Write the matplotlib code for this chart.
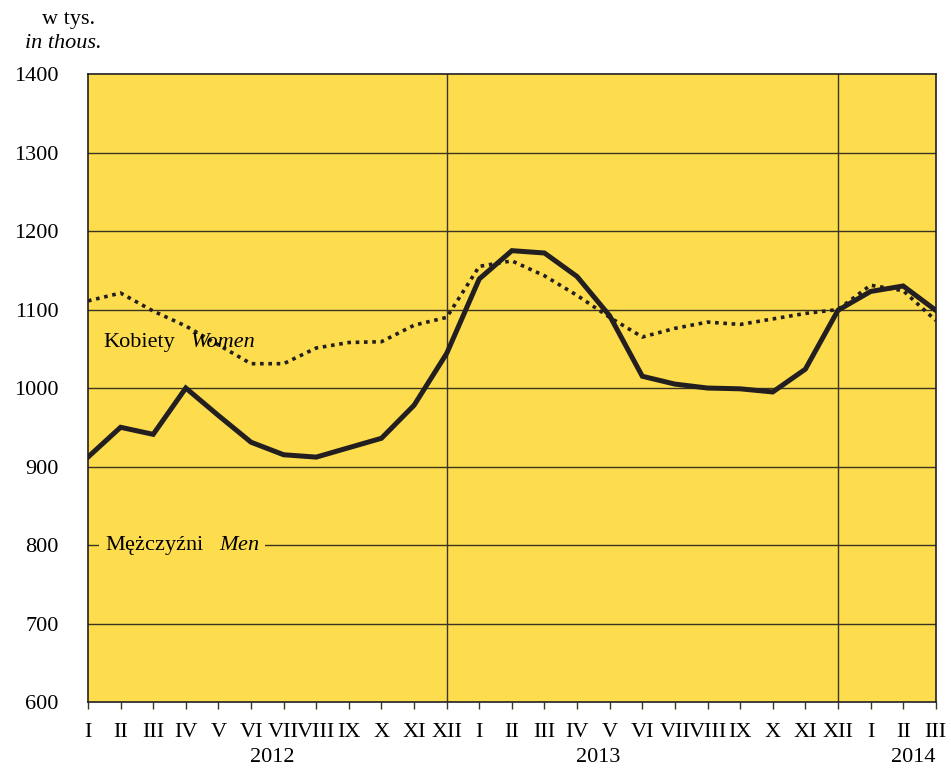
import matplotlib.pyplot as plt

plt.rcParams['font.family'] = ['Liberation Serif', 'DejaVu Serif']
plt.rcParams['mathtext.fontset'] = 'custom'
plt.rcParams['mathtext.it'] = 'Liberation Serif:italic'
plt.rcParams['mathtext.rm'] = 'Liberation Serif'

# miesiące I 2012 - III 2014
miesiace = ['I', 'II', 'III', 'IV', 'V', 'VI', 'VII', 'VIII', 'IX', 'X', 'XI', 'XII',
            'I', 'II', 'III', 'IV', 'V', 'VI', 'VII', 'VIII', 'IX', 'X', 'XI', 'XII',
            'I', 'II', 'III']
lata = ['2012', '2013', '2014']

# w tys.
mezczyzni = [912, 950, 941, 1000, 965, 931, 915, 912, 924, 936, 978, 1044,
             1139, 1175, 1172, 1142, 1092, 1015, 1005, 1000, 999, 995, 1024, 1099,
             1123, 1130, 1099]
kobiety = [1111, 1121, 1098, 1079, 1055, 1031, 1031, 1051, 1058, 1059, 1080, 1090,
           1155, 1162, 1143, 1118, 1090, 1065, 1076, 1084, 1081, 1088, 1095, 1100,
           1131, 1124, 1086]

x = list(range(len(miesiace)))
zolty = '#FDDC4E'
fs = 16

fig = plt.figure(figsize=(9.51, 7.68), dpi=100)
ax = fig.add_axes([0.0925, 0.0859, 0.8915, 0.8177])
ax.set_facecolor(zolty)

for y in range(700, 1400, 100):
    ax.axhline(y, color='#3a3420', lw=1.0, zorder=1)
for xv in [11, 23]:
    ax.axvline(xv, color='#3a3420', lw=1.0, zorder=1)

ax.plot(x, kobiety, color='#231f20', lw=2.6, linestyle=(0, (1, 1.3)), zorder=3)
ax.plot(x, mezczyzni, color='#231f20', lw=3.6, solid_joinstyle='miter', zorder=4)

ax.set_xlim(0, 26)
ax.set_ylim(600, 1400)
ax.set_yticks(range(600, 1401, 100))
ax.set_xticks(x)
ax.set_xticklabels(miesiace)
ax.tick_params(axis='x', length=5, width=1, color='#3a3420', labelsize=fs, pad=10, direction='out')
ax.tick_params(axis='y', length=0, labelsize=fs, pad=21)
for s in ax.spines.values():
    s.set_color('#231f20')
    s.set_linewidth(1.2)

trans = ax.get_xaxis_transform()
ax.text(5.65, -0.073, lata[0], transform=trans, ha='center', va='top', fontsize=fs)
ax.text(15.65, -0.073, lata[1], transform=trans, ha='center', va='top', fontsize=fs)
ax.text(25.3, -0.073, lata[2], transform=trans, ha='center', va='top', fontsize=fs)

ax.text(0.46, 1058, 'Kobiety', fontsize=fs, va='center', ha='left', zorder=5)
ax.text(3.15, 1058, 'Women', fontsize=fs, style='italic', va='center', ha='left', zorder=5)
ax.text(0.52, 800, 'Mężczyźni   $\\mathit{Men}$', fontsize=fs, va='center', ha='left', zorder=5,
        bbox=dict(facecolor=zolty, edgecolor='none', pad=4))

fig.text(0.072, 0.975, 'w tys.', fontsize=fs, ha='center', va='center')
fig.text(0.067, 0.943, 'in thous.', fontsize=fs, style='italic', ha='center', va='center')

fig.savefig('out.png', dpi=100)
